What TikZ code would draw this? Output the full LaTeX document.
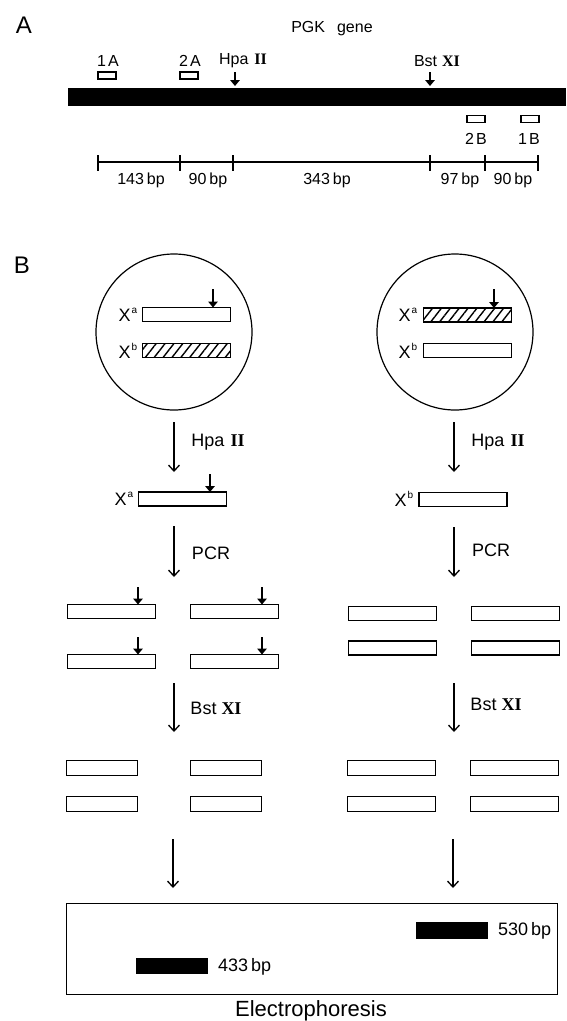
\documentclass[tikz,border=0pt]{standalone}
\usepackage{fontspec}
\setmainfont{Liberation Sans}
\newfontfamily\rmnumfont{Liberation Serif}
\usetikzlibrary{arrows.meta,patterns.meta}
\newcommand{\rn}[1]{{\rmnumfont\bfseries #1}}
\newcommand{\fsz}[1]{\fontsize{#1}{#1}\selectfont}
\newcommand{\Xsup}[1]{X\kern1pt\raisebox{0.45em}{\fontsize{10}{10}\selectfont #1}}
\begin{document}
\begin{tikzpicture}[x=1pt,y=-1pt,
  every node/.style={inner sep=0pt, outer sep=0pt},
  seg/.style={draw, line width=1.5pt, minimum width=88pt, minimum height=14pt},
  shortseg/.style={draw, line width=1.5pt, minimum width=71pt, minimum height=15pt},
  hatch/.style={pattern={Lines[angle=52,distance=7pt,line width=1.4pt]}},
  primer/.style={draw, line width=1.5pt, minimum width=18pt, minimum height=7pt},
  band/.style={fill=black, minimum width=72pt, minimum height=17pt},
  cut/.style={line width=2.6pt, -{Triangle[length=6pt,width=9.5pt]}},
  flow/.style={line width=1.3pt, -{Straight Barb[length=6pt,width=11pt,line width=1.3pt]}},
  tick/.style={line width=1.6pt},
  panel/.style={font=\fsz{24}},
  alab/.style={font=\fsz{15}},
  blab/.style={font=\fsz{18}},
  gellab/.style={font=\fsz{18}, anchor=west},
  cell/.style={draw, circle, line width=1.2pt, minimum size=156pt}
]
\useasboundingbox (0,0) rectangle (566,1021);

% ---------------- Panel A ----------------
\node[panel] (labA) at (24,25) {A};
\node[alab, font=\fsz{16}] (pgk) at (332,29) {PGK\hspace{12pt}gene};
\node[fill=black, minimum width=498pt, minimum height=18pt] (gene) at (317,97) {};

\node[primer] (p1A) at (107,75.5) {};
\node[primer] (p2A) at (189,75.5) {};
\node[primer] (p2B) at (476,119) {};
\node[primer] (p1B) at (530,119) {};
\node[alab, font=\fsz{16}] (l1A) at (108,61) {1\kern2pt A};
\node[alab, font=\fsz{16}] (l2A) at (190,61) {2\kern2pt A};
\node[alab, font=\fsz{16}] (l2B) at (476,139) {2\kern2pt B};
\node[alab, font=\fsz{16}] (l1B) at (529,139) {1\kern2pt B};

\node[alab, font=\fsz{16}] (hpaA) at (243,61) {Hpa\hspace{6pt}\rn{II}};
\node[alab, font=\fsz{16}] (bstA) at (437,61) {Bst\hspace{5pt}\rn{XI}};
\coordinate (hpaAs) at (235,72);
\coordinate (hpaAe) at (235,86);
\coordinate (bstAs) at (430,72);
\coordinate (bstAe) at (430,86);
\draw[cut] (hpaAs) -- (hpaAe);
\draw[cut] (bstAs) -- (bstAe);

% scale
\coordinate (t1) at (98,162);
\coordinate (t2) at (180,162);
\coordinate (t3) at (233,162);
\coordinate (t4) at (430,162);
\coordinate (t5) at (485,162);
\coordinate (t6) at (538,162);
\draw[tick] (t1) -- (t6);
\foreach \t in {t1,t2,t3,t4,t5,t6}{
  \draw[tick] ([yshift=-8.5pt]\t) -- ([yshift=7.5pt]\t);
}
\node[alab, font=\fsz{16}] (s1) at (141,180) {143\hspace{3pt}bp};
\node[alab, font=\fsz{16}] (s2) at (208,180) {90\hspace{3pt}bp};
\node[alab, font=\fsz{16}] (s3) at (327,180) {343\hspace{3pt}bp};
\node[alab, font=\fsz{16}] (s4) at (460,180) {97\hspace{3pt}bp};
\node[alab, font=\fsz{16}] (s5) at (513,180) {90\hspace{3pt}bp};

% ---------------- Panel B ----------------
\node[panel] (labB) at (22,265) {B};

% left cell
\node[cell] (cellL) at (174,332) {};
\node[seg] (cLa) at (186.5,314.5) {};
\node[seg, hatch] (cLb) at (186.5,350.5) {};
\node[blab] (cLaX) at (128,315) {\Xsup{a}};
\node[blab] (cLbX) at (128,351) {\Xsup{b}};
\coordinate (cLcut) at (213,289);
\draw[cut] (cLcut) -- (cLcut |- cLa.north);

% right cell
\node[cell] (cellR) at (455,332) {};
\node[seg, hatch] (cRa) at (467.5,315) {};
\node[seg] (cRb) at (467.5,350.5) {};
\node[blab] (cRaX) at (408,315) {\Xsup{a}};
\node[blab] (cRbX) at (408,351) {\Xsup{b}};
\coordinate (cRcut) at (494,289);
\draw[cut] (cRcut) -- (cRcut |- cRa.north);

% Hpa II digestion
\coordinate (a1Ls) at (174,422);
\coordinate (a1Le) at (174,472);
\coordinate (a1Rs) at (454,422);
\coordinate (a1Re) at (454,472);
\draw[flow] (a1Ls) -- (a1Le);
\draw[flow] (a1Rs) -- (a1Re);
\node[blab] (hpaL) at (218,442) {Hpa\hspace{6pt}\rn{II}};
\node[blab] (hpaR) at (498,442) {Hpa\hspace{6pt}\rn{II}};

\node[seg] (dLa) at (182.5,499) {};
\node[blab] (dLaX) at (124,499) {\Xsup{a}};
\coordinate (dLcut) at (210,474);
\draw[cut] (dLcut) -- (dLcut |- dLa.north);
\node[seg] (dRb) at (463,499.5) {};
\node[blab] (dRbX) at (404,499) {\Xsup{b}};

% PCR
\coordinate (a2Ls) at (174,526);
\coordinate (a2Le) at (174,577);
\coordinate (a2Rs) at (454,527);
\coordinate (a2Re) at (454,577);
\draw[flow] (a2Ls) -- (a2Le);
\draw[flow] (a2Rs) -- (a2Re);
\node[blab] (pcrL) at (211,553) {PCR};
\node[blab] (pcrR) at (491,550) {PCR};

\node[seg] (pL1) at (111.5,611.5) {};
\node[seg] (pL2) at (234.5,611.5) {};
\node[seg] (pL3) at (111.5,661.5) {};
\node[seg] (pL4) at (234.5,661.5) {};
\coordinate (pL1c) at (138,587);
\coordinate (pL2c) at (262,587);
\coordinate (pL3c) at (138,637);
\coordinate (pL4c) at (262,637);
\draw[cut] (pL1c) -- (pL1c |- pL1.north);
\draw[cut] (pL2c) -- (pL2c |- pL2.north);
\draw[cut] (pL3c) -- (pL3c |- pL3.north);
\draw[cut] (pL4c) -- (pL4c |- pL4.north);

\node[seg] (pR1) at (392.5,613.5) {};
\node[seg] (pR2) at (515.5,613.5) {};
\node[seg] (pR3) at (392.5,648) {};
\node[seg] (pR4) at (515.5,648) {};

% Bst XI digestion
\coordinate (a3Ls) at (174,683);
\coordinate (a3Le) at (174,732);
\coordinate (a3Rs) at (454,683);
\coordinate (a3Re) at (454,732);
\draw[flow] (a3Ls) -- (a3Le);
\draw[flow] (a3Rs) -- (a3Re);
\node[blab] (bstL) at (216,708) {Bst\hspace{5pt}\rn{XI}};
\node[blab] (bstR) at (496,704) {Bst\hspace{5pt}\rn{XI}};

\node[shortseg] (bL1) at (102,768) {};
\node[shortseg] (bL2) at (226,768) {};
\node[shortseg] (bL3) at (102,804) {};
\node[shortseg] (bL4) at (226,804) {};
\node[seg, minimum height=15pt] (bR1) at (391.5,768) {};
\node[seg, minimum height=15pt] (bR2) at (514.5,768) {};
\node[seg, minimum height=15pt] (bR3) at (391.5,804) {};
\node[seg, minimum height=15pt] (bR4) at (514.5,804) {};

% to gel
\coordinate (a4Ls) at (173,839);
\coordinate (a4Le) at (173,888);
\coordinate (a4Rs) at (453,839);
\coordinate (a4Re) at (453,888);
\draw[flow] (a4Ls) -- (a4Le);
\draw[flow] (a4Rs) -- (a4Re);

% gel
\node[draw, line width=1.3pt, minimum width=491pt, minimum height=91pt] (gel) at (312,949) {};
\node[band] (b530) at (452,930.5) {};
\node[gellab] (l530) at (498,931) {530\hspace{3pt}bp};
\node[band, minimum height=16pt] (b433) at (172,966) {};
\node[gellab] (l433) at (218,967) {433\hspace{3pt}bp};
\node[font=\fsz{22}] (elec) at (311,1011) {Electrophoresis};
\end{tikzpicture}
\end{document}
